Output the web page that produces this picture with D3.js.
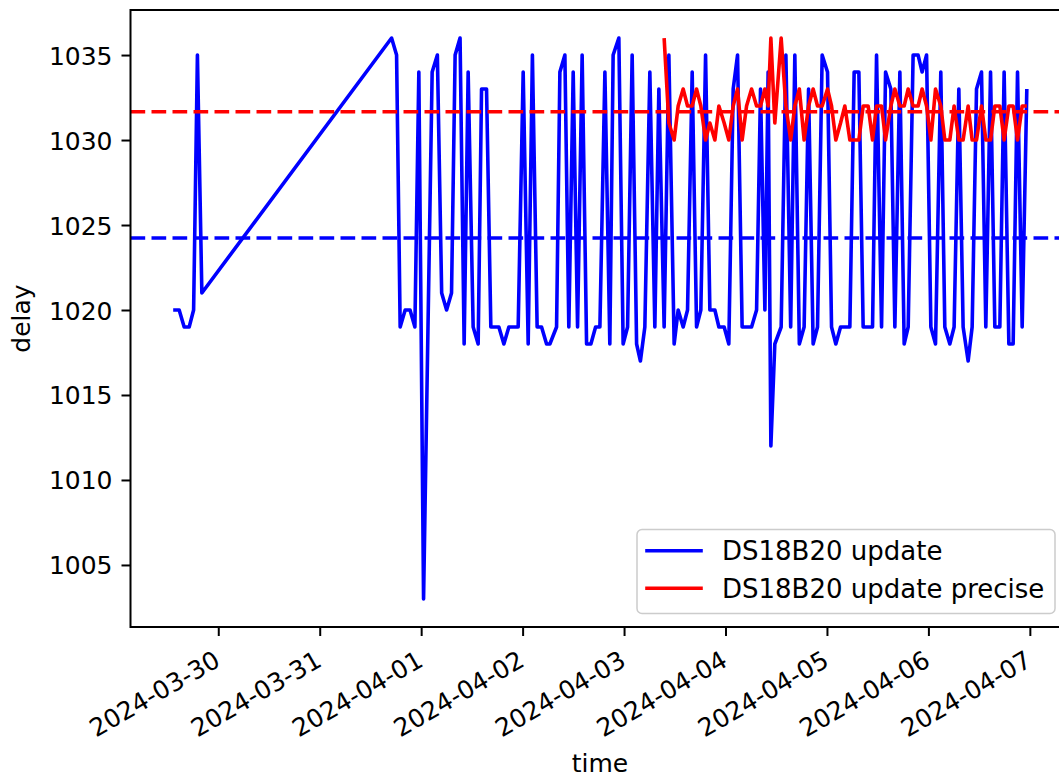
<!DOCTYPE html>
<html>
<head>
<meta charset="utf-8">
<script src="https://cdn.jsdelivr.net/npm/d3@7"></script>
<style>
  html, body { margin: 0; padding: 0; background: #ffffff; }
  svg { display: block; font-family: "DejaVu Sans", sans-serif; }
</style>
</head>
<body>
<svg id="chart" width="1059" height="776"></svg>
<script>
// Sample timestamps (UTC) shared by both sensor readings
const times = [
  "2024-03-29 13:20","2024-03-29 14:45","2024-03-29 15:56","2024-03-29 17:07","2024-03-29 18:10",
  "2024-03-29 19:04","2024-03-29 20:07",
  "2024-03-31 17:00","2024-03-31 18:11","2024-03-31 19:02","2024-03-31 20:13","2024-03-31 21:22",
  "2024-03-31 22:31","2024-03-31 23:27",
  "2024-04-01 00:34","2024-04-01 02:36","2024-04-01 03:50","2024-04-01 04:51","2024-04-01 06:01",
  "2024-04-01 07:11","2024-04-01 08:02","2024-04-01 09:12","2024-04-01 10:10","2024-04-01 11:07",
  "2024-04-01 12:18","2024-04-01 13:29","2024-04-01 14:17","2024-04-01 15:28","2024-04-01 16:29",
  "2024-04-01 18:23","2024-04-01 19:34","2024-04-01 20:45","2024-04-01 22:57",
  "2024-04-02 00:08","2024-04-02 01:19","2024-04-02 02:19","2024-04-02 03:26","2024-04-02 04:29",
  "2024-04-02 05:40","2024-04-02 06:27","2024-04-02 08:02","2024-04-02 08:49","2024-04-02 10:00",
  "2024-04-02 10:56","2024-04-02 11:58","2024-04-02 13:00","2024-04-02 14:05","2024-04-02 15:08",
  "2024-04-02 16:09","2024-04-02 17:16","2024-04-02 18:17","2024-04-02 19:28","2024-04-02 20:38",
  "2024-04-02 21:25","2024-04-02 22:46","2024-04-02 23:47",
  "2024-04-03 00:50","2024-04-03 01:55","2024-04-03 02:58","2024-04-03 03:52","2024-04-03 04:55",
  "2024-04-03 06:06","2024-04-03 07:17","2024-04-03 08:14","2024-04-03 09:29","2024-04-03 10:36",
  "2024-04-03 11:51","2024-04-03 12:48","2024-04-03 13:59","2024-04-03 15:01","2024-04-03 16:07",
  "2024-04-03 17:09","2024-04-03 18:10","2024-04-03 19:17","2024-04-03 20:18","2024-04-03 21:29",
  "2024-04-03 22:26","2024-04-03 23:41",
  "2024-04-04 00:47","2024-04-04 01:49","2024-04-04 02:51","2024-04-04 03:56","2024-04-04 04:59",
  "2024-04-04 06:10","2024-04-04 07:21","2024-04-04 08:17","2024-04-04 09:19","2024-04-04 10:05",
  "2024-04-04 10:44","2024-04-04 11:40","2024-04-04 13:10","2024-04-04 14:17","2024-04-04 15:25",
  "2024-04-04 16:24","2024-04-04 17:28","2024-04-04 18:36","2024-04-04 19:39","2024-04-04 20:44",
  "2024-04-04 21:46","2024-04-04 22:52",
  "2024-04-05 00:08","2024-04-05 01:05","2024-04-05 02:06","2024-04-05 03:13","2024-04-05 04:14",
  "2024-04-05 05:25","2024-04-05 06:26","2024-04-05 07:33","2024-04-05 08:34","2024-04-05 09:45",
  "2024-04-05 10:47","2024-04-05 11:44","2024-04-05 12:55","2024-04-05 13:52","2024-04-05 15:07",
  "2024-04-05 16:04","2024-04-05 17:15","2024-04-05 18:16","2024-04-05 19:13","2024-04-05 20:23",
  "2024-04-05 21:34","2024-04-05 22:31","2024-04-05 23:34",
  "2024-04-06 00:35","2024-04-06 01:41","2024-04-06 02:56","2024-04-06 03:53","2024-04-06 05:04",
  "2024-04-06 06:05","2024-04-06 07:12","2024-04-06 08:13","2024-04-06 09:24","2024-04-06 10:21",
  "2024-04-06 11:23","2024-04-06 12:34","2024-04-06 13:35","2024-04-06 14:42","2024-04-06 15:43",
  "2024-04-06 16:54","2024-04-06 17:55","2024-04-06 19:02","2024-04-06 20:03","2024-04-06 21:05",
  "2024-04-06 22:11","2024-04-06 23:17"
];

// "DS18B20 update" delay per sample
const updateDelay = [
  1020,1020,1019,1019,1020,1035,1021,
  1036,1035,1019,1020,1020,1019,1034,
  1003,1034,1035,1021,1020,1021,1035,1036,1018,1034,1019,1018,1033,1033,1019,1019,1018,1019,1019,
  1034,1018,1035,1019,1019,1018,1018,1019,1034,1035,1019,1034,1019,1035,1018,1018,1019,1019,1034,
  1018,1035,1036,1018,
  1019,1035,1018,1017,1019,1034,1019,1033,1019,1035,1018,1020,1019,1020,1034,1019,1020,1035,1020,
  1020,1019,1019,
  1018,1033,1035,1019,1019,1019,1020,1033,1020,1034,1012,1018,1019,1035,1019,1035,1018,1019,1033,
  1018,1019,1035,
  1034,1019,1018,1019,1019,1019,1034,1034,1019,1019,1019,1035,1019,1034,1033,1019,1034,1018,1019,
  1035,1035,1034,1035,
  1019,1018,1034,1019,1018,1019,1033,1019,1017,1019,1033,1034,1019,1034,1019,1019,1034,1018,1018,
  1034,1019,1033
];

// "DS18B20 update precise" delay per sample (null before the precise readings start)
const preciseDelay = [
  null,null,null,null,null,null,null,
  null,null,null,null,null,null,null,
  null,null,null,null,null,null,null,null,null,null,null,null,null,null,null,null,null,null,null,
  null,null,null,null,null,null,null,null,null,null,null,null,null,null,null,null,null,null,null,
  null,null,null,null,
  null,null,null,null,null,null,null,null,1036,1031,1030,1032,1033,1032,1032,1033,1032,1030,1031,
  1030,1032,1031,
  1030,1032,1033,1030,1032,1033,1032,1032,1033,1032,1036,1031,1036,1032,1030,1032,1033,1030,1032,
  1033,1032,1032,
  1033,1032,1030,1031,1032,1030,1030,1030,1032,1032,1030,1032,1032,1030,1032,1033,1032,1032,1033,
  1032,1032,1033,1032,
  1030,1033,1032,1030,1030,1032,1030,1030,1032,1030,1030,1032,1030,1030,1032,1032,1030,1032,1032,
  1030,1032,1032
];

// Average delay of each series, drawn as dashed reference lines
const meanDelay = [1024.24, 1031.66];

const seriesNames = ["DS18B20 update", "DS18B20 update precise"];
const seriesColors = ["#0000ff", "#ff0000"];

const xTickDates = ["2024-03-30","2024-03-31","2024-04-01","2024-04-02","2024-04-03",
                    "2024-04-04","2024-04-05","2024-04-06","2024-04-07"];
const yTickValues = [1005, 1010, 1015, 1020, 1025, 1030, 1035];

const xLabel = "time";
const yLabel = "delay";

// ---- layout ----
const svg = d3.select("#chart");
const plot = { left: 130.5, right: 1069.5, top: 10, bottom: 627 };
const tickFont = 25;
const legendFont = 26;
const lineW = 3.6;

const parseTime = d3.utcParse("%Y-%m-%d %H:%M");
const parseDay = d3.utcParse("%Y-%m-%d");
const t = times.map(parseTime);

// 5% margins around the data, as in an auto-scaled plot
const xExt = d3.extent(t);
const xPad = (xExt[1] - xExt[0]) * 0.05;
const x = d3.scaleUtc()
  .domain([new Date(+xExt[0] - xPad), new Date(+xExt[1] + xPad)])
  .range([plot.left, plot.right]);

const allVals = updateDelay.concat(preciseDelay.filter(v => v != null));
const yExt = d3.extent(allVals);
const yPad = (yExt[1] - yExt[0]) * 0.05;
const y = d3.scaleLinear()
  .domain([yExt[0] - yPad, yExt[1] + yPad])
  .range([plot.bottom, plot.top]);

// clip for everything drawn inside the axes
svg.append("defs").append("clipPath").attr("id", "plotClip")
  .append("rect")
  .attr("x", plot.left).attr("y", plot.top)
  .attr("width", plot.right - plot.left).attr("height", plot.bottom - plot.top);

const inner = svg.append("g").attr("clip-path", "url(#plotClip)");

const line = d3.line()
  .defined(d => d[1] != null)
  .x(d => x(d[0]))
  .y(d => y(d[1]));

const seriesData = [updateDelay, preciseDelay];
seriesData.forEach((vals, i) => {
  inner.append("path")
    .datum(t.map((d, j) => [d, vals[j]]))
    .attr("d", line)
    .attr("fill", "none")
    .attr("stroke", seriesColors[i])
    .attr("stroke-width", lineW)
    .attr("stroke-linejoin", "round");
});

// dashed mean lines across the full axes width
meanDelay.forEach((m, i) => {
  inner.append("line")
    .attr("x1", plot.left).attr("x2", plot.right)
    .attr("y1", y(m)).attr("y2", y(m))
    .attr("stroke", seriesColors[i])
    .attr("stroke-width", lineW)
    .attr("stroke-dasharray", "14.7,6.3");
});

// ---- axes ----
const yAxis = d3.axisLeft(y)
  .tickValues(yTickValues)
  .tickFormat(d3.format("d"))
  .tickSize(9).tickPadding(9);

const gy = svg.append("g")
  .attr("transform", `translate(${plot.left},0)`)
  .call(yAxis);
gy.select(".domain").remove();
gy.selectAll(".tick line").attr("stroke", "#000").attr("stroke-width", 2);
gy.selectAll(".tick text")
  .attr("font-size", tickFont)
  .attr("font-family", "DejaVu Sans")
  .attr("fill", "#000")
  .attr("dy", "0.36em");

const xAxis = d3.axisBottom(x)
  .tickValues(xTickDates.map(parseDay))
  .tickFormat(d3.utcFormat("%Y-%m-%d"))
  .tickSize(9);

const gx = svg.append("g")
  .attr("transform", `translate(0,${plot.bottom})`)
  .call(xAxis);
gx.select(".domain").remove();
gx.selectAll(".tick line").attr("stroke", "#000").attr("stroke-width", 2);
gx.selectAll(".tick text")
  .attr("font-size", tickFont)
  .attr("font-family", "DejaVu Sans")
  .attr("fill", "#000")
  .attr("y", null).attr("dy", null)
  .attr("text-anchor", "end")
  .attr("transform", "translate(3,38) rotate(-30)");

// axes frame
svg.append("rect")
  .attr("x", plot.left).attr("y", plot.top)
  .attr("width", plot.right - plot.left).attr("height", plot.bottom - plot.top)
  .attr("fill", "none").attr("stroke", "#000").attr("stroke-width", 2);

// axis titles
svg.append("text")
  .attr("x", (plot.left + plot.right) / 2).attr("y", 771.5)
  .attr("text-anchor", "middle")
  .attr("font-size", tickFont)
  .text(xLabel);

svg.append("text")
  .attr("transform", `translate(29.5,${(plot.top + plot.bottom) / 2}) rotate(-90)`)
  .attr("text-anchor", "middle")
  .attr("font-size", tickFont)
  .text(yLabel);

// ---- legend ----
const legend = svg.append("g");
legend.append("rect")
  .attr("x", 637).attr("y", 529.5)
  .attr("width", 418).attr("height", 84)
  .attr("rx", 5).attr("ry", 5)
  .attr("fill", "#ffffff").attr("fill-opacity", 0.8)
  .attr("stroke", "#cccccc").attr("stroke-width", 1.5);

const legendRows = [550.7, 588.3];
seriesNames.forEach((name, i) => {
  legend.append("line")
    .attr("x1", 647).attr("x2", 701)
    .attr("y1", legendRows[i]).attr("y2", legendRows[i])
    .attr("stroke", seriesColors[i]).attr("stroke-width", lineW)
    .attr("stroke-linecap", "square");
  legend.append("text")
    .attr("x", 722).attr("y", legendRows[i] + 9.3)
    .attr("font-size", legendFont)
    .attr("fill", "#000")
    .text(name);
});
</script>
</body>
</html>
